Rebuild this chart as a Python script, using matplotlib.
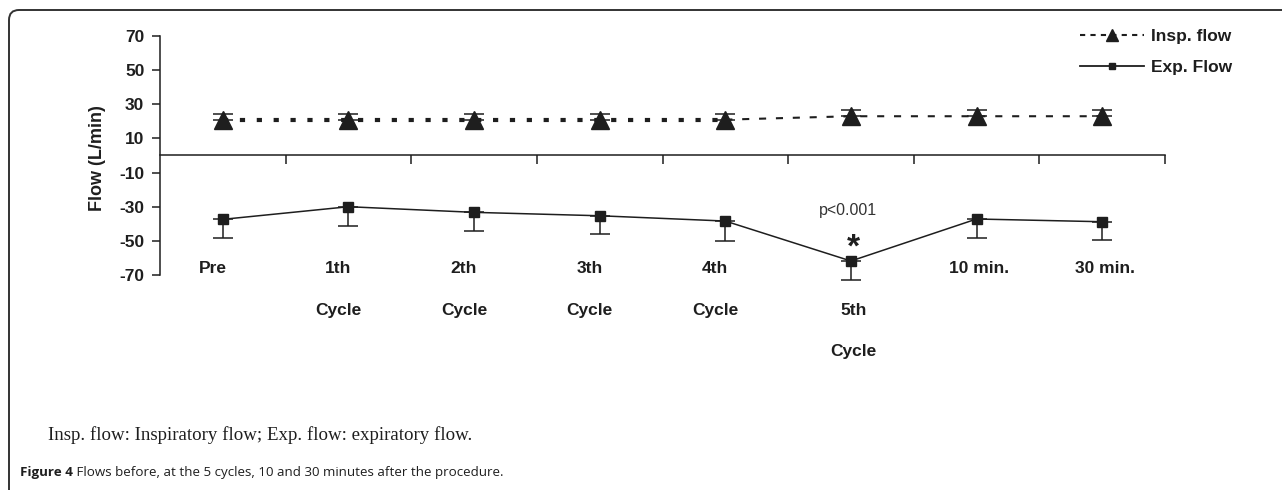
import numpy as np
import matplotlib
matplotlib.use("Agg")
import matplotlib.pyplot as plt
from matplotlib.patches import FancyBboxPatch
from matplotlib.transforms import IdentityTransform
from matplotlib.lines import Line2D

# ---- data ----
categories = ["Pre", "1th", "2th", "3th", "4th", "5th", "10 min.", "30 min."]
second_line = ["", "Cycle", "Cycle", "Cycle", "Cycle", "Cycle", "", ""]
insp_flow = [21, 21, 21, 21, 21, 23, 23, 23]
insp_err = [3.3, 3.3, 3.3, 3.3, 3.3, 3.4, 3.4, 3.4]
exp_flow = [-37.4, -30.0, -33.3, -35.3, -38.4, -61.8, -37.2, -38.8]
exp_err = [10.7, 11.3, 10.9, 10.7, 11.5, 11.0, 10.9, 10.9]
y_ticks = [-70, -50, -30, -10, 10, 30, 50, 70]
legend_labels = ["Insp. flow", "Exp. Flow"]
sig_text = "p<0.001"
note_text = "Insp. flow: Inspiratory flow; Exp. flow: expiratory flow."
caption_bold = "Figure 4"
caption_rest = " Flows before, at the 5 cycles, 10 and 30 minutes after the procedure."

INK = "#1e1e1e"
W, H = 1282, 490
plt.rcParams['font.family'] = ['Liberation Sans', 'DejaVu Sans']

fig = plt.figure(figsize=(W / 100, H / 100), dpi=100)
ax = fig.add_axes([160 / W, 1 - 275 / H, (1165 - 160) / W, (275 - 36) / H])

x = np.arange(len(categories))
n = len(categories)

# Insp flow
ax.errorbar(x, insp_flow, yerr=[np.zeros(n), insp_err], fmt='none', ecolor=INK,
            elinewidth=1.1, capsize=7, capthick=1.1, clip_on=False, zorder=3)
ax.plot(x[:5], insp_flow[:5], color=INK, lw=3.0, ls=(0, (1.25, 2.8)),
        dash_capstyle='butt', zorder=2)
ax.plot(x[4:], insp_flow[4:], color=INK, lw=1.5, ls=(0, (3.4, 4.7)),
        dash_capstyle='butt', zorder=2)
ax.plot(x, insp_flow, ls='none', marker='^', ms=13, color=INK, zorder=4)

# Exp flow
ax.errorbar(x, exp_flow, yerr=[exp_err, np.zeros(n)], fmt='none', ecolor=INK,
            elinewidth=1.1, capsize=7, capthick=1.1, clip_on=False, zorder=3)
ax.plot(x, exp_flow, color=INK, lw=1.1, marker='s', ms=7, zorder=4, clip_on=False)

ax.set_xlim(-0.5, n - 0.5)
ax.set_ylim(y_ticks[0], y_ticks[-1])
for s in ['top', 'right']:
    ax.spines[s].set_visible(False)
ax.spines['bottom'].set_position(('data', 0))
for s in ['bottom', 'left']:
    ax.spines[s].set_color(INK)
    ax.spines[s].set_linewidth(1.1)
ax.set_xticks(x + 0.5)
ax.set_xticklabels([])
ax.tick_params(axis='x', direction='out', length=6.5, width=1.1, color=INK)
ax.set_yticks(y_ticks)
ax.set_yticklabels([str(v) for v in y_ticks], fontsize=12.5, fontweight='bold', color=INK)
ax.tick_params(axis='y', direction='out', length=5.8, width=1.1, pad=5.5, color=INK)

# category labels
rows = [-66, -91, -115]
for i, (a, b) in enumerate(zip(categories, second_line)):
    dx = -0.08 if i < 5 else 0.02
    r0 = 1 if categories[i] == "5th" else 0
    ax.text(i + dx, rows[r0], a, ha='center', va='center', fontsize=12.5,
            fontweight='bold', color=INK, clip_on=False)
    if b:
        ax.text(i + dx, rows[r0 + 1], b, ha='center', va='center', fontsize=12.5,
                fontweight='bold', color=INK, clip_on=False)

# significance
ax.text(4.98, -32.5, sig_text, ha='center', va='center', fontsize=11.5, color='#333333')
ax.text(5.02, -54.5, "*", ha='center', va='center', fontsize=24, fontweight='bold', color=INK)

# y label
fig.text(98 / W, 1 - 158 / H, "Flow (L/min)", rotation=90, ha='center', va='center',
         fontsize=13, fontweight='bold', color=INK)

# legend
handles = [Line2D([], [], color=INK, lw=1.5, ls=(0, (2.5, 2.5)), marker='^', ms=8),
           Line2D([], [], color=INK, lw=1.3, ls='-', marker='s', ms=5)]
leg = fig.legend(handles, legend_labels, loc='upper left',
                 bbox_to_anchor=(1071 / W, 1 - 20 / H), bbox_transform=fig.transFigure,
                 frameon=False, borderpad=0, handlelength=3.7, handletextpad=0.4,
                 labelspacing=0.95, prop={'weight': 'bold', 'size': 12.5})
for t in leg.get_texts():
    t.set_color(INK)

# outer rounded box
box = FancyBboxPatch((9, -30), 1400, H - 10 + 30, boxstyle="round,pad=0,rounding_size=10",
                     transform=IdentityTransform(), fill=False, lw=1.4, ec='#333333')
fig.patches.append(box)

# notes & caption
fig.text(48 / W, 1 - 435 / H, note_text, ha='left', va='center', fontsize=13.6,
         family='Liberation Serif', color=INK)
t1 = fig.text(20 / W, 1 - 472 / H, caption_bold, ha='left', va='center', fontsize=9.6,
              fontweight='bold', family='Open Sans', color=INK)
fig.canvas.draw()
bb = t1.get_window_extent(fig.canvas.get_renderer())
fig.text(bb.x1 / W, 1 - 472 / H, caption_rest, ha='left', va='center', fontsize=9.6,
         family='Open Sans', color=INK)

fig.savefig("out.png", dpi=100)
